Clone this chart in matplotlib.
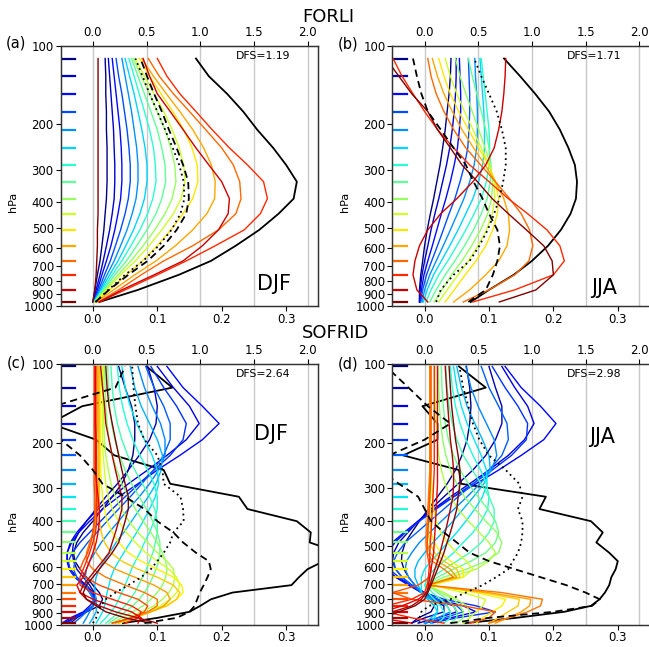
import matplotlib
matplotlib.use("Agg")
import matplotlib.pyplot as plt
from matplotlib.ticker import FixedLocator, NullLocator

# ---------------- data ----------------
P_F = [965, 867, 759, 671, 587, 510, 442, 387, 333, 287, 247, 210, 179, 153, 131, 112]
P_S = [988, 943, 894, 848, 800, 754, 706, 658, 613, 571, 530, 484, 443, 401, 360, 323,
       288, 255, 224, 195, 169, 145, 123, 102]

# FORLI DJF kernels, rows from lowest level (965 hPa) to highest (112 hPa)
AK_A = [
    [0.0, 0.003, 0.005, 0.006, 0.007, 0.007, 0.008, 0.008, 0.008, 0.008, 0.008, 0.008, 0.008, 0.008, 0.008, 0.008],
    [0.01, 0.045, 0.095, 0.14, 0.17, 0.195, 0.21, 0.212, 0.2, 0.18, 0.16, 0.14, 0.12, 0.1, 0.088, 0.078],
    [0.01, 0.05, 0.10, 0.145, 0.19, 0.235, 0.26, 0.271, 0.265, 0.24, 0.212, 0.185, 0.16, 0.135, 0.115, 0.1],
    [0.008, 0.04, 0.075, 0.11, 0.155, 0.195, 0.222, 0.23, 0.228, 0.218, 0.2, 0.175, 0.15, 0.125, 0.103, 0.086],
    [0.005, 0.032, 0.065, 0.098, 0.128, 0.155, 0.177, 0.189, 0.19, 0.184, 0.172, 0.155, 0.135, 0.114, 0.094, 0.076],
    [0.004, 0.026, 0.052, 0.077, 0.100, 0.121, 0.140, 0.155, 0.163, 0.162, 0.154, 0.141, 0.124, 0.106, 0.088, 0.072],
    [0.003, 0.021, 0.043, 0.066, 0.087, 0.107, 0.125, 0.137, 0.143, 0.141, 0.134, 0.123, 0.110, 0.095, 0.080, 0.066],
    [0.003, 0.019, 0.039, 0.059, 0.078, 0.096, 0.112, 0.123, 0.129, 0.127, 0.121, 0.112, 0.100, 0.088, 0.075, 0.063],
    [0.002, 0.017, 0.034, 0.052, 0.068, 0.084, 0.098, 0.107, 0.113, 0.112, 0.107, 0.100, 0.090, 0.080, 0.070, 0.060],
    [0.002, 0.015, 0.030, 0.045, 0.059, 0.073, 0.085, 0.093, 0.098, 0.097, 0.094, 0.088, 0.080, 0.072, 0.064, 0.056],
    [0.002, 0.013, 0.026, 0.039, 0.051, 0.063, 0.073, 0.080, 0.084, 0.084, 0.081, 0.076, 0.070, 0.064, 0.057, 0.050],
    [0.001, 0.011, 0.022, 0.033, 0.043, 0.053, 0.061, 0.067, 0.070, 0.070, 0.068, 0.064, 0.060, 0.055, 0.050, 0.045],
    [0.001, 0.009, 0.018, 0.027, 0.035, 0.043, 0.050, 0.055, 0.058, 0.058, 0.056, 0.053, 0.049, 0.045, 0.040, 0.036],
    [0.001, 0.007, 0.014, 0.021, 0.028, 0.034, 0.039, 0.043, 0.045, 0.045, 0.044, 0.042, 0.039, 0.036, 0.033, 0.030],
    [0.0, 0.005, 0.011, 0.016, 0.021, 0.026, 0.030, 0.033, 0.034, 0.034, 0.033, 0.032, 0.030, 0.028, 0.026, 0.024],
    [0.0, 0.003, 0.007, 0.011, 0.014, 0.017, 0.019, 0.021, 0.022, 0.022, 0.022, 0.021, 0.021, 0.020, 0.020, 0.019],
]
DASH_A = [0.004, 0.025, 0.055, 0.085, 0.11, 0.13, 0.145, 0.149, 0.148, 0.14, 0.13, 0.118, 0.107, 0.095, 0.084, 0.074]
DOT_A = [0.004, 0.024, 0.05, 0.078, 0.102, 0.122, 0.136, 0.142, 0.141, 0.134, 0.124, 0.112, 0.1, 0.088, 0.077, 0.066]
TOT_A = [0.06, 0.42, 0.8, 1.1, 1.33, 1.55, 1.73, 1.87, 1.9, 1.8, 1.68, 1.53, 1.4, 1.25, 1.08, 0.96]

# FORLI JJA
AK_B = [
    [0.116, 0.173, 0.2, 0.198, 0.185, 0.158, 0.13, 0.105, 0.082, 0.058, 0.04, 0.02, 0.005, -0.02, -0.04, -0.06],
    [0.005, -0.012, -0.018, -0.015, -0.008, 0.005, 0.025, 0.05, 0.075, 0.095, 0.108, 0.115, 0.12, 0.123, 0.125, 0.126],
    [0.075, 0.14, 0.2, 0.217, 0.21, 0.19, 0.16, 0.13, 0.1, 0.07, 0.045, 0.02, 0.0, -0.018, -0.035, -0.049],
    [0.06, 0.1, 0.14, 0.162, 0.168, 0.163, 0.15, 0.132, 0.11, 0.087, 0.064, 0.045, 0.03, 0.018, 0.01, 0.005],
    [0.045, 0.07, 0.095, 0.115, 0.128, 0.132, 0.13, 0.123, 0.11, 0.094, 0.076, 0.058, 0.043, 0.03, 0.02, 0.012],
    [0.032, 0.046, 0.063, 0.08, 0.095, 0.106, 0.113, 0.115, 0.11, 0.099, 0.084, 0.068, 0.053, 0.04, 0.03, 0.022],
    [0.022, 0.035, 0.052, 0.068, 0.083, 0.096, 0.105, 0.109, 0.108, 0.1, 0.088, 0.075, 0.062, 0.05, 0.04, 0.032],
    [0.015, 0.027, 0.042, 0.058, 0.073, 0.087, 0.098, 0.104, 0.106, 0.102, 0.094, 0.084, 0.074, 0.064, 0.055, 0.048],
    [0.008, 0.018, 0.032, 0.047, 0.062, 0.076, 0.088, 0.097, 0.102, 0.103, 0.1, 0.095, 0.088, 0.081, 0.074, 0.068],
    [0.002, 0.01, 0.022, 0.036, 0.05, 0.064, 0.077, 0.088, 0.096, 0.1, 0.101, 0.1, 0.097, 0.094, 0.091, 0.088],
    [-0.002, 0.004, 0.014, 0.026, 0.039, 0.052, 0.064, 0.075, 0.084, 0.09, 0.093, 0.093, 0.092, 0.09, 0.088, 0.086],
    [-0.004, 0.0, 0.008, 0.018, 0.029, 0.04, 0.051, 0.061, 0.07, 0.077, 0.081, 0.082, 0.082, 0.081, 0.079, 0.078],
    [-0.006, -0.003, 0.003, 0.011, 0.02, 0.029, 0.038, 0.047, 0.055, 0.062, 0.067, 0.069, 0.07, 0.07, 0.069, 0.068],
    [-0.007, -0.005, -0.001, 0.005, 0.012, 0.019, 0.026, 0.033, 0.04, 0.046, 0.051, 0.054, 0.056, 0.056, 0.055, 0.054],
    [-0.008, -0.007, -0.004, 0.0, 0.005, 0.01, 0.016, 0.022, 0.028, 0.034, 0.039, 0.043, 0.046, 0.048, 0.049, 0.049],
    [-0.008, -0.008, -0.006, -0.003, 0.0, 0.004, 0.009, 0.014, 0.019, 0.024, 0.028, 0.032, 0.035, 0.038, 0.04, 0.041],
]
DASH_B = [0.068, 0.095, 0.106, 0.113, 0.117, 0.113, 0.1, 0.09, 0.076, 0.064, 0.045, 0.025, 0.005, -0.005, -0.012, -0.018]
DOT_B = [0.018, 0.025, 0.045, 0.07, 0.085, 0.098, 0.108, 0.116, 0.122, 0.126, 0.126, 0.12, 0.112, 0.1, 0.088, 0.077]
TOT_B = [0.43, 0.6, 0.83, 1.0, 1.15, 1.27, 1.36, 1.41, 1.42, 1.4, 1.34, 1.26, 1.16, 1.03, 0.89, 0.74]

# SOFRID DJF, rows from lowest level (988 hPa) to highest (102 hPa)
AK_C = [
    [0.09, 0.05, 0.02, 0.005, -0.01, -0.015, -0.01, 0.0, 0.01, 0.02, 0.03, 0.04, 0.045, 0.05, 0.055, 0.055, 0.05, 0.045, 0.04, 0.035, 0.03, 0.025, 0.022, 0.02],
    [0.1, 0.07, 0.035, 0.01, -0.01, -0.02, -0.015, -0.005, 0.005, 0.015, 0.025, 0.03, 0.035, 0.04, 0.045, 0.045, 0.04, 0.035, 0.03, 0.025, 0.02, 0.018, 0.015, 0.012],
    [0.07, 0.075, 0.06, 0.03, 0.0, -0.02, -0.025, -0.015, -0.01, -0.005, 0.0, 0.005, 0.008, 0.01, 0.01, 0.008, 0.006, 0.005, 0.005, 0.005, 0.004, 0.004, 0.004, 0.004],
    [0.05, 0.07, 0.075, 0.06, 0.03, 0.0, -0.02, -0.02, -0.015, -0.01, -0.005, 0.0, 0.004, 0.006, 0.006, 0.006, 0.005, 0.004, 0.004, 0.004, 0.003, 0.003, 0.003, 0.003],
    [0.03, 0.06, 0.08, 0.085, 0.07, 0.04, 0.01, -0.012, -0.02, -0.015, -0.008, -0.003, 0.0, 0.002, 0.003, 0.003, 0.002, 0.002, 0.002, 0.002, 0.002, 0.002, 0.002, 0.002],
    [0.03, 0.06, 0.085, 0.1, 0.1, 0.08, 0.05, 0.02, 0.0, -0.01, -0.01, -0.005, 0.0, 0.003, 0.004, 0.005, 0.005, 0.005, 0.005, 0.005, 0.006, 0.006, 0.006, 0.006],
    [0.035, 0.06, 0.09, 0.11, 0.12, 0.115, 0.095, 0.065, 0.035, 0.015, 0.005, 0.002, 0.002, 0.004, 0.006, 0.008, 0.008, 0.008, 0.008, 0.008, 0.008, 0.008, 0.008, 0.008],
    [0.04, 0.065, 0.09, 0.115, 0.13, 0.135, 0.125, 0.1, 0.07, 0.045, 0.028, 0.018, 0.013, 0.01, 0.01, 0.01, 0.01, 0.01, 0.01, 0.01, 0.01, 0.01, 0.01, 0.01],
    [0.04, 0.065, 0.09, 0.113, 0.13, 0.14, 0.138, 0.125, 0.1, 0.075, 0.055, 0.04, 0.03, 0.022, 0.018, 0.015, 0.013, 0.012, 0.012, 0.012, 0.012, 0.012, 0.012, 0.012],
    [0.04, 0.06, 0.085, 0.105, 0.12, 0.13, 0.135, 0.13, 0.118, 0.1, 0.082, 0.066, 0.052, 0.04, 0.03, 0.024, 0.02, 0.018, 0.016, 0.015, 0.015, 0.015, 0.015, 0.015],
    [0.035, 0.055, 0.075, 0.095, 0.108, 0.118, 0.125, 0.127, 0.125, 0.115, 0.1, 0.085, 0.07, 0.056, 0.044, 0.035, 0.028, 0.024, 0.02, 0.018, 0.017, 0.016, 0.016, 0.016],
    [0.03, 0.045, 0.062, 0.078, 0.09, 0.1, 0.108, 0.113, 0.115, 0.113, 0.108, 0.1, 0.09, 0.078, 0.066, 0.055, 0.045, 0.037, 0.03, 0.025, 0.022, 0.02, 0.019, 0.018],
    [0.025, 0.037, 0.05, 0.062, 0.072, 0.08, 0.087, 0.093, 0.098, 0.102, 0.104, 0.104, 0.1, 0.093, 0.083, 0.072, 0.06, 0.05, 0.041, 0.034, 0.029, 0.026, 0.024, 0.023],
    [0.02, 0.03, 0.04, 0.05, 0.058, 0.065, 0.071, 0.077, 0.083, 0.088, 0.093, 0.097, 0.1, 0.1, 0.096, 0.088, 0.077, 0.065, 0.054, 0.045, 0.038, 0.033, 0.03, 0.028],
    [0.012, 0.02, 0.028, 0.035, 0.04, 0.045, 0.05, 0.055, 0.06, 0.066, 0.073, 0.08, 0.088, 0.095, 0.1, 0.1, 0.095, 0.085, 0.073, 0.062, 0.053, 0.046, 0.041, 0.038],
    [0.005, 0.01, 0.015, 0.018, 0.02, 0.022, 0.025, 0.028, 0.033, 0.04, 0.048, 0.058, 0.068, 0.078, 0.088, 0.097, 0.102, 0.1, 0.092, 0.08, 0.068, 0.058, 0.05, 0.045],
    [-0.005, 0.0, 0.005, 0.006, 0.005, 0.003, 0.003, 0.005, 0.01, 0.017, 0.026, 0.036, 0.048, 0.06, 0.073, 0.086, 0.098, 0.106, 0.108, 0.1, 0.088, 0.075, 0.065, 0.058],
    [-0.015, -0.01, -0.005, 0.0, 0.0, -0.005, -0.01, -0.012, -0.01, -0.005, 0.003, 0.013, 0.025, 0.04, 0.055, 0.072, 0.088, 0.102, 0.112, 0.112, 0.105, 0.092, 0.08, 0.07],
    [-0.03, -0.02, -0.01, 0.0, 0.002, -0.005, -0.015, -0.025, -0.03, -0.028, -0.02, -0.008, 0.006, 0.022, 0.04, 0.058, 0.076, 0.094, 0.11, 0.12, 0.12, 0.11, 0.095, 0.082],
    [-0.04, -0.028, -0.012, 0.0, 0.004, -0.003, -0.015, -0.028, -0.036, -0.038, -0.032, -0.02, -0.005, 0.012, 0.03, 0.05, 0.072, 0.095, 0.12, 0.14, 0.145, 0.13, 0.11, 0.09],
    [-0.048, -0.035, -0.015, -0.005, 0.004, 0.0, -0.011, -0.028, -0.037, -0.04, -0.04, -0.033, -0.022, -0.005, 0.015, 0.04, 0.07, 0.1, 0.135, 0.17, 0.196, 0.17, 0.14, 0.115],
    [-0.045, -0.03, -0.012, 0.0, 0.005, 0.0, -0.01, -0.025, -0.035, -0.04, -0.04, -0.035, -0.025, -0.01, 0.008, 0.03, 0.055, 0.085, 0.115, 0.145, 0.165, 0.15, 0.125, 0.1],
    [-0.035, -0.025, -0.01, 0.0, 0.005, 0.002, -0.005, -0.015, -0.025, -0.03, -0.032, -0.03, -0.022, -0.01, 0.005, 0.02, 0.038, 0.055, 0.072, 0.088, 0.098, 0.1, 0.095, 0.085],
    [-0.04, -0.03, -0.01, 0.01, 0.015, 0.01, 0.0, -0.01, -0.02, -0.028, -0.03, -0.025, -0.015, 0.0, 0.015, 0.03, 0.045, 0.055, 0.062, 0.065, 0.065, 0.06, 0.05, 0.04],
]
DASH_C = [0.08, 0.13, 0.15, 0.158, 0.162, 0.166, 0.172, 0.178, 0.183, 0.18, 0.16, 0.14, 0.125, 0.1, 0.08, 0.05, 0.015, 0.0, -0.02, -0.05, -0.07, -0.06, 0.035, 0.05]
DOT_C = [0.0, 0.005, 0.008, 0.012, 0.02, 0.035, 0.055, 0.075, 0.09, 0.1, 0.11, 0.12, 0.125, 0.141, 0.14, 0.136, 0.11, 0.108, 0.1, 0.08, 0.07, 0.066, 0.063, 0.061]
TOT_C = [0.28, 0.6, 0.9, 1.0, 1.1, 1.3, 1.85, 1.92, 2.0, 2.15, 2.3, 2.02, 2.03, 1.9, 1.44, 1.36, 0.72, 0.66, 0.2, 0.03, -0.4, -0.1, 0.74, 0.5]

# SOFRID JJA
AK_D = [
    [-0.07, -0.065, -0.04, -0.015, 0.0, 0.005, 0.01, 0.015, 0.02, 0.025, 0.03, 0.035, 0.04, 0.045, 0.05, 0.052, 0.055, 0.055, 0.052, 0.048, 0.045, 0.042, 0.04, 0.038],
    [-0.07, -0.07, -0.05, -0.02, -0.005, 0.003, 0.008, 0.012, 0.016, 0.02, 0.024, 0.028, 0.032, 0.036, 0.04, 0.044, 0.045, 0.045, 0.043, 0.04, 0.038, 0.036, 0.034, 0.032],
    [-0.02, -0.07, -0.065, -0.035, -0.01, 0.004, 0.006, 0.008, 0.01, 0.012, 0.014, 0.015, 0.016, 0.017, 0.018, 0.019, 0.02, 0.02, 0.02, 0.02, 0.02, 0.02, 0.02, 0.02],
    [0.03, -0.02, -0.06, -0.06, -0.02, 0.0, 0.004, 0.006, 0.007, 0.008, 0.008, 0.009, 0.01, 0.011, 0.012, 0.013, 0.014, 0.015, 0.015, 0.015, 0.015, 0.015, 0.015, 0.015],
    [0.07, 0.1, 0.11, 0.06, -0.02, -0.05, -0.01, 0.008, 0.01, 0.006, 0.004, 0.004, 0.005, 0.006, 0.007, 0.008, 0.009, 0.01, 0.01, 0.01, 0.01, 0.01, 0.01, 0.01],
    [0.1, 0.13, 0.16, 0.18, 0.183, 0.12, 0.005, 0.045, 0.03, 0.012, 0.004, 0.002, 0.003, 0.004, 0.005, 0.006, 0.007, 0.008, 0.008, 0.008, 0.008, 0.008, 0.008, 0.008],
    [0.11, 0.13, 0.15, 0.163, 0.165, 0.1, 0.003, 0.05, 0.04, 0.02, 0.008, 0.004, 0.004, 0.005, 0.006, 0.007, 0.008, 0.008, 0.008, 0.008, 0.008, 0.008, 0.008, 0.008],
    [0.1, 0.115, 0.13, 0.145, 0.147, 0.09, 0.005, 0.055, 0.05, 0.03, 0.015, 0.008, 0.006, 0.006, 0.007, 0.008, 0.008, 0.008, 0.008, 0.008, 0.008, 0.008, 0.008, 0.008],
    [0.08, 0.09, 0.105, 0.12, 0.126, 0.08, 0.008, 0.06, 0.06, 0.04, 0.025, 0.015, 0.01, 0.009, 0.009, 0.009, 0.009, 0.009, 0.009, 0.009, 0.009, 0.009, 0.009, 0.009],
    [0.06, 0.07, 0.08, 0.09, 0.095, 0.06, 0.01, 0.06, 0.075, 0.065, 0.05, 0.035, 0.025, 0.018, 0.014, 0.012, 0.011, 0.01, 0.01, 0.01, 0.01, 0.01, 0.01, 0.01],
    [0.06, 0.07, 0.07, 0.065, 0.05, 0.03, 0.005, 0.04, 0.08, 0.1, 0.11, 0.1, 0.085, 0.068, 0.052, 0.04, 0.032, 0.026, 0.022, 0.02, 0.018, 0.017, 0.016, 0.016],
    [0.05, 0.06, 0.06, 0.055, 0.045, 0.025, 0.005, 0.03, 0.065, 0.095, 0.115, 0.12, 0.112, 0.095, 0.078, 0.062, 0.05, 0.04, 0.033, 0.028, 0.025, 0.023, 0.022, 0.021],
    [0.04, 0.05, 0.05, 0.045, 0.035, 0.02, 0.005, 0.02, 0.045, 0.072, 0.095, 0.11, 0.115, 0.11, 0.098, 0.083, 0.068, 0.055, 0.045, 0.037, 0.032, 0.029, 0.027, 0.026],
    [0.03, 0.04, 0.04, 0.035, 0.025, 0.012, 0.003, 0.012, 0.03, 0.05, 0.07, 0.088, 0.1, 0.108, 0.108, 0.1, 0.088, 0.074, 0.06, 0.05, 0.043, 0.038, 0.035, 0.033],
    [0.02, 0.03, 0.03, 0.025, 0.015, 0.005, 0.0, 0.005, 0.015, 0.03, 0.045, 0.06, 0.075, 0.088, 0.098, 0.1, 0.096, 0.087, 0.075, 0.064, 0.055, 0.048, 0.043, 0.04],
    [0.01, 0.015, 0.02, 0.015, 0.005, -0.005, -0.005, -0.005, 0.0, 0.01, 0.022, 0.036, 0.05, 0.064, 0.078, 0.09, 0.097, 0.096, 0.088, 0.077, 0.066, 0.057, 0.05, 0.045],
    [0.0, 0.01, 0.02, 0.02, 0.01, -0.005, -0.01, -0.015, -0.015, -0.01, 0.0, 0.013, 0.028, 0.044, 0.06, 0.076, 0.092, 0.102, 0.1, 0.09, 0.078, 0.066, 0.057, 0.05],
    [0.0, 0.02, 0.04, 0.035, 0.015, -0.005, -0.015, -0.025, -0.03, -0.028, -0.02, -0.008, 0.008, 0.026, 0.046, 0.066, 0.086, 0.104, 0.112, 0.108, 0.096, 0.083, 0.072, 0.064],
    [0.0, 0.03, 0.06, 0.05, 0.02, -0.005, -0.02, -0.035, -0.045, -0.048, -0.042, -0.03, -0.012, 0.008, 0.03, 0.052, 0.076, 0.1, 0.12, 0.13, 0.128, 0.115, 0.1, 0.088],
    [0.01, 0.05, 0.11, 0.08, 0.03, 0.0, -0.02, -0.04, -0.055, -0.06, -0.058, -0.048, -0.03, -0.008, 0.018, 0.045, 0.075, 0.105, 0.135, 0.158, 0.16, 0.145, 0.125, 0.105],
    [0.0, 0.04, 0.08, 0.06, 0.02, 0.0, -0.02, -0.045, -0.06, -0.065, -0.062, -0.05, -0.032, -0.01, 0.016, 0.045, 0.08, 0.115, 0.15, 0.185, 0.204, 0.18, 0.15, 0.125],
    [-0.01, 0.02, 0.05, 0.045, 0.015, -0.005, -0.025, -0.045, -0.058, -0.062, -0.058, -0.046, -0.03, -0.01, 0.014, 0.04, 0.07, 0.1, 0.13, 0.155, 0.17, 0.16, 0.14, 0.12],
    [-0.02, 0.0, 0.03, 0.03, 0.01, -0.005, -0.02, -0.035, -0.045, -0.05, -0.048, -0.04, -0.026, -0.01, 0.01, 0.03, 0.052, 0.075, 0.095, 0.11, 0.12, 0.12, 0.11, 0.1],
    [-0.02, -0.01, 0.01, 0.015, 0.005, -0.005, -0.015, -0.025, -0.032, -0.036, -0.035, -0.03, -0.02, -0.008, 0.006, 0.02, 0.035, 0.048, 0.058, 0.066, 0.07, 0.072, 0.07, 0.065],
]
DASH_D = [0.04, 0.1, 0.2, 0.26, 0.272, 0.25, 0.22, 0.18, 0.14, 0.1, 0.07, 0.05, 0.03, 0.01, 0.0, -0.01, -0.04, -0.07, -0.055, 0.0, 0.04, 0.005, -0.025, -0.06]
DOT_D = [-0.008, -0.008, -0.005, 0.007, 0.04, 0.064, 0.09, 0.111, 0.13, 0.137, 0.145, 0.15, 0.152, 0.152, 0.145, 0.152, 0.147, 0.126, 0.1, 0.085, 0.075, 0.068, 0.06, 0.054]
TOT_D = [0.38, 0.85, 1.3, 1.55, 1.63, 1.68, 1.72, 1.74, 1.78, 1.8, 1.72, 1.6, 1.66, 1.55, 1.07, 1.13, 0.34, 0.32, -0.2, 0.12, 0.12, -0.02, 0.57, 0.32]

DFS = ["DFS=1.19", "DFS=1.71", "DFS=2.64", "DFS=2.98"]
SEASONS = ["DJF", "JJA", "DJF", "JJA"]
PANEL_LABELS = ["(a)", "(b)", "(c)", "(d)"]
ROW_TITLES = ["FORLI", "SOFRID"]
BOTTOM_TICKS = [0.0, 0.1, 0.2, 0.3]
TOP_TICKS = [0.0, 0.5, 1.0, 1.5, 2.0]
Y_TICKS = [100, 200, 300, 400, 500, 600, 700, 800, 900, 1000]

# ---------------- figure ----------------
W, H = 649, 647
fig = plt.figure(figsize=(W / 100, H / 100), dpi=100)
cmap = plt.get_cmap("jet")

ax_w = 257.6 / W
ax_h = 260.3 / H
lefts = [60.7 / W, 392.4 / W]
bottoms = [(H - 306.0) / H, (H - 624.5) / H]

panels = [
    (P_F, AK_A, DASH_A, DOT_A, TOT_A),
    (P_F, AK_B, DASH_B, DOT_B, TOT_B),
    (P_S, AK_C, DASH_C, DOT_C, TOT_C),
    (P_S, AK_D, DASH_D, DOT_D, TOT_D),
]
season_pos = [(0.828, 0.083), (0.82, 0.069), (0.815, 0.73), (0.815, 0.72)]

for i, (lev, ak, dash, dot, tot) in enumerate(panels):
    r, c = divmod(i, 2)
    ax2 = fig.add_axes([lefts[c], bottoms[r], ax_w, ax_h])
    ax = ax2.twiny()
    # ax2: top axis (total column kernel), drawn beneath
    ax2.set_zorder(1)
    ax.set_zorder(2)
    ax.patch.set_visible(False)

    ax2.set_yscale("log")
    ax2.set_ylim(1000, 100)
    ax2.set_xlim(-0.3, 2.1)
    ax2.xaxis.set_ticks_position("top")
    ax2.xaxis.set_label_position("top")
    ax2.set_xticks(TOP_TICKS)
    ax2.set_xticklabels([f"{t:.1f}" for t in TOP_TICKS])
    for t in TOP_TICKS:
        ax2.axvline(t, color="#c8c8c8", lw=1.0, zorder=0)
    ax2.plot(tot, lev, color="black", lw=1.3, zorder=3)

    ax.set_xlim(-0.05, 0.35)
    ax.xaxis.set_ticks_position("bottom")
    ax.xaxis.set_label_position("bottom")
    ax.set_xticks(BOTTOM_TICKS)
    ax.set_xticklabels([f"{t:.1f}" for t in BOTTOM_TICKS])

    n = len(lev)
    for k in range(n - 1, -1, -1):
        col = cmap(1 - k / (n - 1))
        ax.plot(ak[k], lev, color=col, lw=1.0)
        ax.plot([-0.047, -0.028], [lev[k], lev[k]], color=col, lw=1.6)
    ax.plot(dash, lev, color="black", lw=1.3, ls=(0, (4, 2.5)))
    ax.plot(dot, lev, color="black", lw=1.3, ls=(0, (1, 2)))

    ax2.yaxis.set_major_locator(FixedLocator(Y_TICKS))
    ax2.yaxis.set_minor_locator(NullLocator())
    ax2.set_yticklabels([str(v) for v in Y_TICKS])
    ax2.set_ylabel("hPa", fontsize=8)
    ax2.yaxis.set_label_coords(-0.165, 0.40)

    for a in (ax, ax2):
        a.tick_params(labelsize=8.5, length=3.5, width=0.8, direction="out", pad=1.5)
        for s in a.spines.values():
            s.set_color("#333333")
            s.set_linewidth(0.9)

    ax.text(0.89, 0.962, DFS[i], transform=ax.transAxes, ha="right", va="center", fontsize=7.8)
    sx, sy = season_pos[i]
    ax.text(sx, sy, SEASONS[i], transform=ax.transAxes, ha="center", va="center", fontsize=15)

# panel labels and row titles
lab_pos = [(16, 43), (348, 44), (16, 363), (348, 364)]
for lab, (px, py) in zip(PANEL_LABELS, lab_pos):
    fig.text(px / W, 1 - py / H, lab, ha="center", va="center", fontsize=10.5)
fig.text(302 / W, 1 - 21.5 / H, ROW_TITLES[0], ha="left", va="baseline", fontsize=13)
fig.text(302 / W, 1 - 338 / H, ROW_TITLES[1], ha="left", va="baseline", fontsize=13)

fig.savefig("out.png", dpi=100)
